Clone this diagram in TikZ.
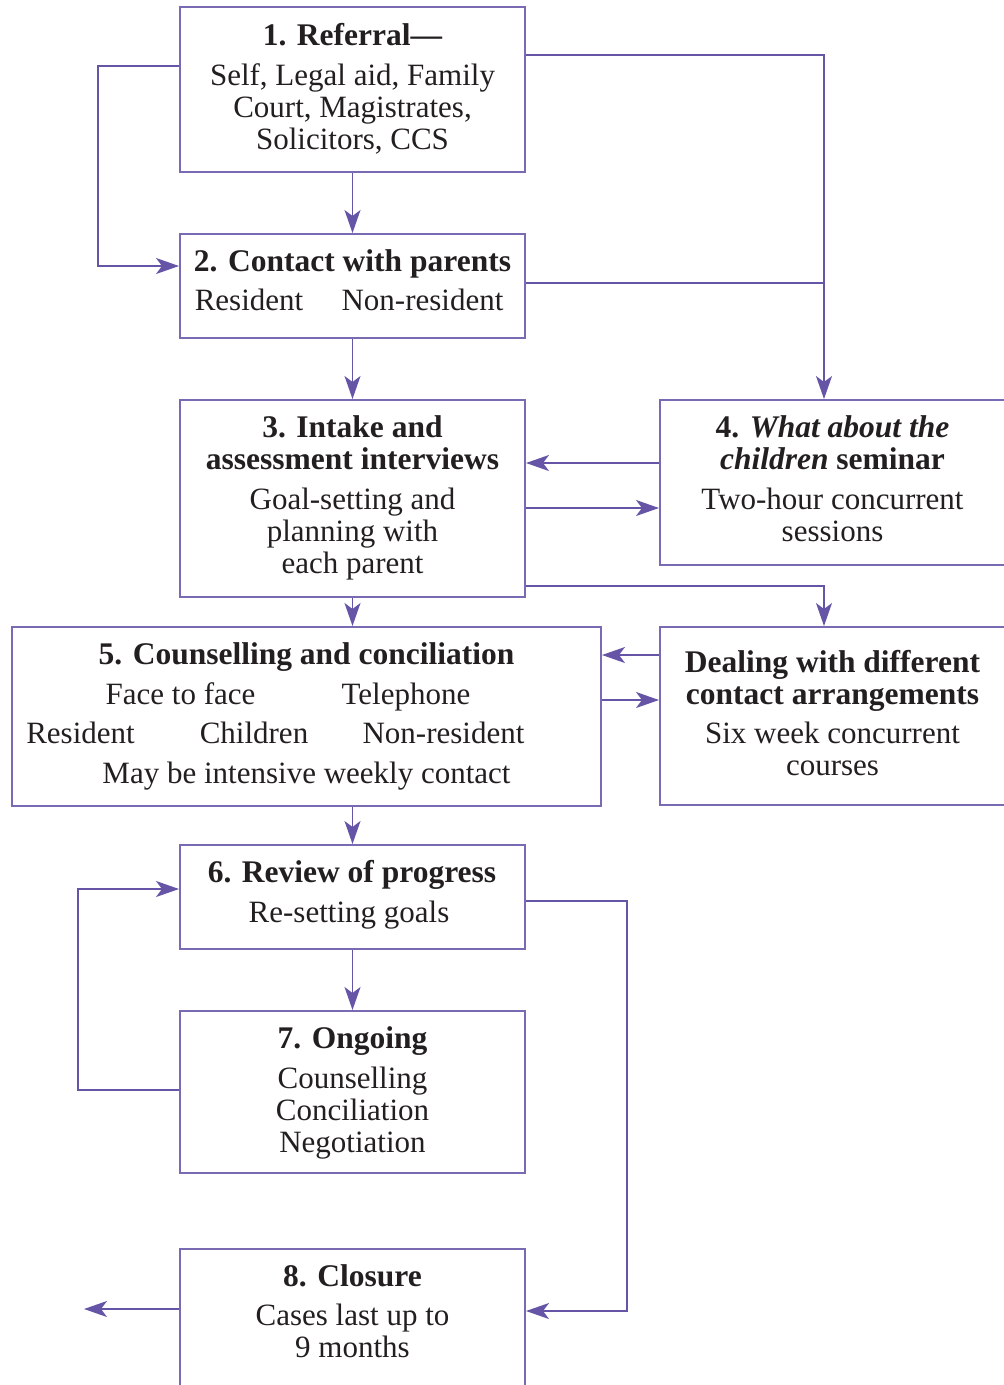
\documentclass[tikz,border=0pt]{standalone}
\usepackage{fontspec}
\setmainfont{Liberation Serif}
\usetikzlibrary{arrows.meta}
\definecolor{boxline}{HTML}{7A6AB4}
\definecolor{flow}{HTML}{6655A6}
\definecolor{ink}{HTML}{231F20}
\begin{document}
\begin{tikzpicture}[x=1pt,y=-1pt,
  box/.style={draw=boxline,line width=2pt,rectangle,inner sep=0pt},
  txt/.style={anchor=base,inner sep=0pt,text=ink,font=\fontsize{31}{32}\selectfont},
  head/.style={txt,font=\fontsize{31.5}{32}\selectfont\bfseries},
  flowline/.style={draw=flow,line width=1.6pt},
  arr/.style={flowline,-{Stealth[length=23pt,width=16pt,inset=6pt]}}]
\useasboundingbox (0,0) rectangle (1004,1385);
\clip (0,0) rectangle (1004,1385);

% boxes
\node[box,minimum width=345,minimum height=165] (b1) at (352.5,89.5) {};
\node[box,minimum width=345,minimum height=104] (b2) at (352.5,286) {};
\node[box,minimum width=345,minimum height=197] (b3) at (352.5,498.5) {};
\node[box,minimum width=360,minimum height=165] (b4) at (840,482.5) {};
\node[box,minimum width=589,minimum height=179] (b5) at (306.5,716.5) {};
\node[box,minimum width=360,minimum height=178] (bd) at (840,716) {};
\node[box,minimum width=345,minimum height=104] (b6) at (352.5,897) {};
\node[box,minimum width=345,minimum height=162] (b7) at (352.5,1092) {};
\node[box,minimum width=345,minimum height=160] (b8) at (352.5,1329) {};

% box 1
\node[head] (t1a) at (352.5,45) {1. Referral—};
\node[txt] (t1b) at (352.5,85) {Self, Legal aid, Family};
\node[txt] (t1c) at (352.5,117) {Court, Magistrates,};
\node[txt] (t1d) at (352.5,149) {Solicitors, CCS};

% box 2
\node[head] (t2a) at (352.5,271) {2. Contact with parents};
\node[txt] (t2b) at (249,310) {Resident};
\node[txt] (t2c) at (422.5,310) {Non-resident};

% box 3
\node[head] (t3a) at (352.5,437) {3. Intake and};
\node[head] (t3b) at (352.5,469) {assessment interviews};
\node[txt] (t3c) at (352.5,509) {Goal-setting and};
\node[txt] (t3d) at (352.5,541) {planning with};
\node[txt] (t3e) at (352.5,573) {each parent};

% box 4
\node[head] (t4a) at (832.5,437) {4. \textit{What about the}};
\node[head] (t4b) at (832.5,469) {\textit{children} seminar};
\node[txt] (t4c) at (832.5,509) {Two-hour concurrent};
\node[txt] (t4d) at (832.5,541) {sessions};

% box 5
\node[head] (t5a) at (306.5,664) {5. Counselling and conciliation};
\node[txt] (t5b) at (180.5,704) {Face to face};
\node[txt] (t5c) at (406,704) {Telephone};
\node[txt] (t5d) at (80.5,743) {Resident};
\node[txt] (t5e) at (254,743) {Children};
\node[txt] (t5f) at (443.5,743) {Non-resident};
\node[txt] (t5g) at (306.5,783) {May be intensive weekly contact};

% contact arrangements box
\node[head] (tda) at (832.5,672) {Dealing with different};
\node[head] (tdb) at (832.5,704) {contact arrangements};
\node[txt] (tdc) at (832.5,743) {Six week concurrent};
\node[txt] (tdd) at (832.5,775) {courses};

% box 6
\node[head] (t6a) at (352,882) {6. Review of progress};
\node[txt] (t6b) at (349,922) {Re-setting goals};

% box 7
\node[head] (t7a) at (352.5,1048) {7. Ongoing};
\node[txt] (t7b) at (352.5,1088) {Counselling};
\node[txt] (t7c) at (352.5,1120) {Conciliation};
\node[txt] (t7d) at (352.5,1152) {Negotiation};

% box 8
\node[head] (t8a) at (352.5,1286) {8. Closure};
\node[txt] (t8b) at (352.5,1325) {Cases last up to};
\node[txt] (t8c) at (352.5,1357) {9 months};

% free ends and bends
\coordinate (c1) at (824,55);
\coordinate (c2) at (824,283);
\coordinate (c3) at (824,586);
\coordinate (out8) at (84,1309);

% connectors
\draw[arr] (b1.south) -- (b2.north);
\draw[arr] (b1.west |- 0,66) -- (98,66) -- (98,266) -- (b2.west |- 0,266);
\draw[arr] (b1.east |- c1) -- (c1) -- (c1 |- b4.north);
\draw[flowline] (b2.east |- c2) -- (c2);
\draw[arr] (b2.south) -- (b3.north);
\draw[arr] (b4.west |- 0,463) -- (b3.east |- 0,463);
\draw[arr] (b3.east |- 0,508) -- (b4.west |- 0,508);
\draw[arr] (b3.south) -- (b5.north -| b3.south);
\draw[arr] (b3.east |- c3) -- (c3) -- (c3 |- bd.north);
\draw[arr] (bd.west |- 0,655) -- (b5.east |- 0,655);
\draw[arr] (b5.east |- 0,700) -- (bd.west |- 0,700);
\draw[arr] (b5.south -| b6.north) -- (b6.north);
\draw[arr] (b6.south) -- (b7.north);
\draw[arr] (b7.west |- 0,1090) -- (78,1090) -- (78,889) -- (b6.west |- 0,889);
\draw[arr] (b6.east |- 0,901) -- (627,901) -- (627,1311) -- (b8.east |- 0,1311);
\draw[arr] (b8.west |- out8) -- (out8);
\end{tikzpicture}
\end{document}
